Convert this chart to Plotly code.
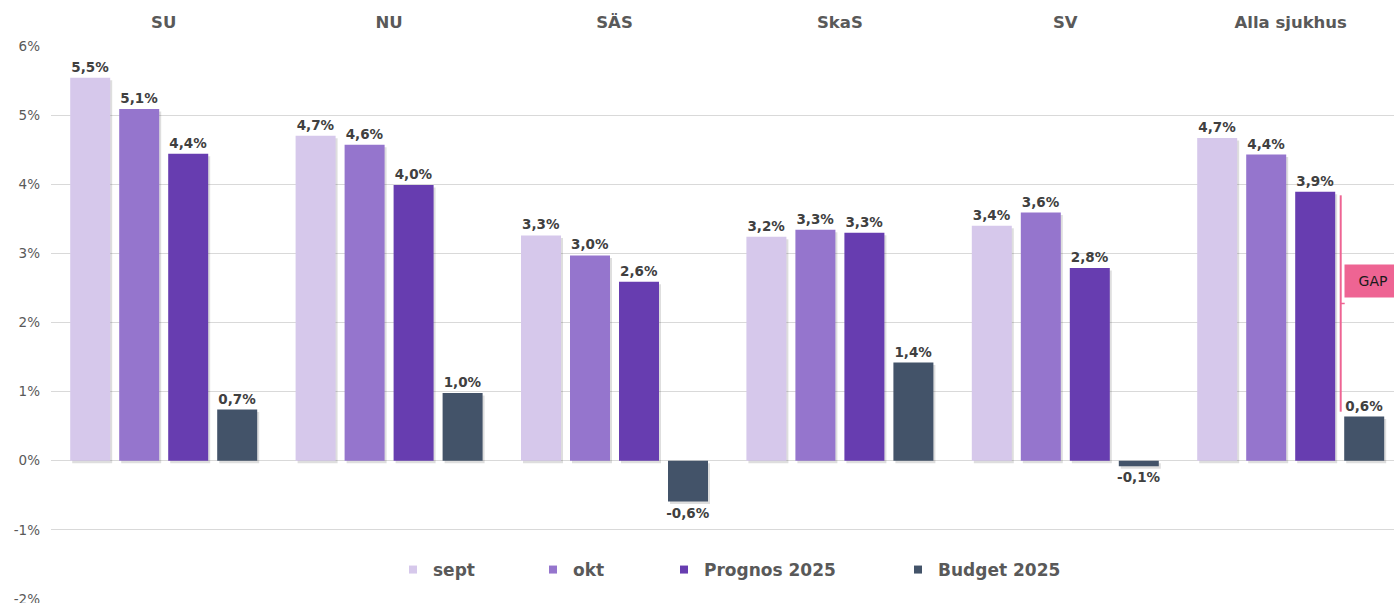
import plotly.graph_objects as go

# Sjukhus (kategorier) och serier, värden i procent
sjukhus = ['SU', 'NU', 'SÄS', 'SkaS', 'SV', 'Alla sjukhus']
sept = [5.54, 4.70, 3.26, 3.24, 3.40, 4.67]
okt = [5.09, 4.57, 2.97, 3.34, 3.59, 4.43]
prognos = [4.44, 3.99, 2.59, 3.30, 2.79, 3.89]
budget = [0.74, 0.98, -0.59, 1.42, -0.08, 0.64]
y_ticks = [-2, -1, 0, 1, 2, 3, 4, 5, 6]

series = [
    ('sept', sept, '#D6C8EB'),
    ('okt', okt, '#9575CD'),
    ('Prognos 2025', prognos, '#673DB0'),
    ('Budget 2025', budget, '#435369'),
]

W, H = 1394, 603
ML, MR, MT, MB = 51, 0, 46, 4
GRAY = '#595959'
PINK = '#EE6493'
FONT = 'DejaVu Sans'

plot_w = W - ML - MR
plot_h = H - MT - MB
group_px = 225.4                 # pixels per category
unit_px = plot_h / 8.0           # pixels per percent
bar_w = 40 / group_px
slot = 49 / group_px


def fmt(v):
    return f'{v:.1f}'.replace('.', ',') + '%'


fig = go.Figure()

# soft drop shadows behind the bars
for i, (name, vals, color) in enumerate(series):
    fig.add_trace(go.Bar(
        x=sjukhus, y=vals, base=-2.5 / unit_px,
        offset=(i - 1.5) * slot - bar_w / 2 + 2 / group_px, width=bar_w,
        marker=dict(color='rgba(0,0,0,0.13)', line=dict(width=0)),
        showlegend=False, hoverinfo='skip',
    ))

# legend x positions (pixels) for each series
legend_px = [393, 533, 664, 898]

for i, (name, vals, color) in enumerate(series):
    lg = 'legend' if i == 0 else f'legend{i + 1}'
    fig.add_trace(go.Bar(
        x=sjukhus, y=vals, name=name,
        offset=(i - 1.5) * slot - bar_w / 2, width=bar_w,
        marker=dict(color=color, line=dict(width=0)),
        text=[fmt(v) for v in vals],
        textposition='outside',
        constraintext='none',
        textfont=dict(family=FONT, size=13.5, color='#404040', weight='bold'),
        cliponaxis=False,
        showlegend=False,
        legendgroup=name,
        hovertemplate='%{x}: %{text}<extra>' + name + '</extra>',
    ))
    # small square legend marker
    fig.add_trace(go.Scatter(
        x=[None], y=[None], mode='markers', name=name,
        marker=dict(symbol='square', size=8, color=color),
        legendgroup=name, legend=lg, showlegend=True,
    ))

legends = {}
for i, px in enumerate(legend_px):
    key = 'legend' if i == 0 else f'legend{i + 1}'
    legends[key] = dict(
        x=(px - ML) / plot_w, xanchor='left',
        y=(599 - 570) / plot_h, yanchor='middle',
        orientation='h', bgcolor='rgba(0,0,0,0)',
        font=dict(family=FONT, size=17, color=GRAY, weight='bold'),
        itemwidth=30,
    )

# GAP bracket for "Alla sjukhus" (between Prognos and Budget)
gx = 5 + slot + 1 / group_px
top = prognos[-1] - 0.05
bot = budget[-1] + 0.07
mid = (top + bot) / 2

shapes = [
    dict(type='line', xref='x', yref='y', x0=gx, x1=gx, y0=bot, y1=top,
         line=dict(color=PINK, width=2)),
    dict(type='line', xref='x', yref='y', x0=gx, x1=gx + 4 / group_px, y0=mid, y1=mid,
         line=dict(color=PINK, width=1.5)),
]

annotations = [
    dict(x=5 + 1.5 * slot - bar_w / 2, y=mid + 0.33, xref='x', yref='y',
         xanchor='left', yanchor='middle',
         text='GAP', showarrow=False,
         font=dict(family=FONT, size=14, color='#1a1a1a'),
         bgcolor=PINK, borderpad=7, width=42, height=18),
]

fig.update_layout(
    width=W, height=H,
    margin=dict(l=ML, r=MR, t=MT, b=MB),
    plot_bgcolor='white', paper_bgcolor='white',
    barmode='overlay',
    xaxis=dict(
        type='category', side='top', range=[-0.5, -0.5 + plot_w / group_px],
        showgrid=False, showline=False, zeroline=False, ticks='',
        tickfont=dict(family=FONT, size=16.5, color=GRAY, weight='bold'),
        ticklabelstandoff=14, automargin=False,
    ),
    yaxis=dict(
        range=[-2, 6], tickmode='array', tickvals=y_ticks,
        ticktext=[f'{v}%' for v in y_ticks],
        showgrid=True, gridcolor='#D9D9D9', gridwidth=1,
        zeroline=True, zerolinecolor='#D9D9D9', zerolinewidth=1,
        showline=False, ticks='',
        tickfont=dict(family=FONT, size=13.5, color=GRAY),
        ticklabelstandoff=10, automargin=False,
        ticklabeloverflow='allow',
    ),
    shapes=shapes,
    annotations=annotations,
    **legends,
)

# put the figure at the window's corner, no scrollbars
fig.write_html('out.html', config={'displayModeBar': False}, post_script=(
    "document.body.style.margin='0';"
    "document.documentElement.style.overflow='hidden';"
))
